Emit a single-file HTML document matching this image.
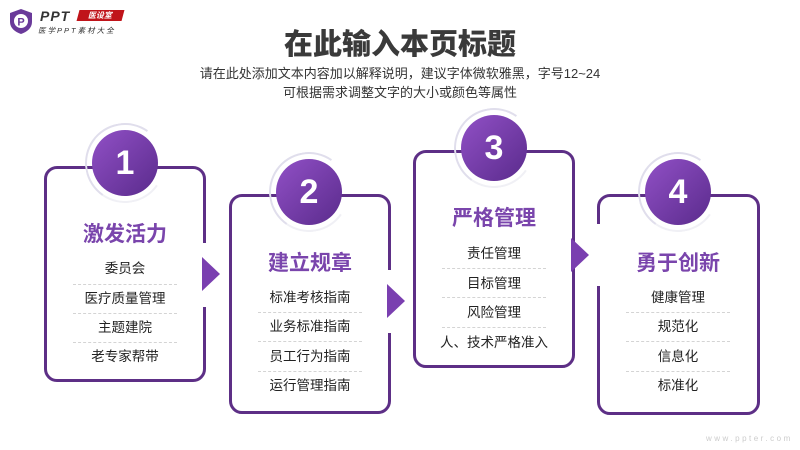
<!DOCTYPE html>
<html><head><meta charset="utf-8"><style>
*{margin:0;padding:0;box-sizing:border-box}
body{width:800px;height:450px;background:#fff;position:relative;overflow:hidden;font-family:"Liberation Sans","Noto Sans CJK SC",sans-serif}
.abs{position:absolute}
.card{position:absolute;border:3px solid #5d2f86;border-radius:13px;background:#fff}
.ring{position:absolute;width:80px;height:80px;border-radius:50%;border:2px solid #e0deec;border-right-color:transparent;border-bottom-color:#f0f0f5;transform:rotate(-10deg)}
.circ{position:absolute;width:66px;height:66px;border-radius:50%;background:linear-gradient(135deg,#9150c6,#5a2b8c);color:#fff;font-size:34px;font-weight:bold;text-align:center;line-height:66px}
.ttl{position:absolute;width:162px;text-align:center;font-size:21px;font-weight:bold;color:#7a45ac;font-family:"Noto Sans CJK SC",sans-serif}
.it{position:absolute;width:162px;text-align:center;font-size:13.5px;color:#222;line-height:18px}
.sep{position:absolute;width:104px;border-top:1px dashed #d4d4d4}
.arr{position:absolute;width:0;height:0;border-top:17px solid transparent;border-bottom:17px solid transparent;border-left:18px solid #7a3fb0}
.gap{position:absolute;background:#fff;width:10px}
</style></head><body>
<svg class="abs" style="left:8px;top:8px" width="26" height="27" viewBox="0 0 26 27"><path d="M13 1 L24 5 V14 C24 20 19 24 13 26 C7 24 2 20 2 14 V5 Z" fill="#6a3a9a"/><circle cx="13" cy="13" r="7" fill="#fff"/><text x="13" y="17.5" font-size="11" font-weight="bold" fill="#6a3a9a" text-anchor="middle" font-family="Liberation Sans">P</text></svg>
<div class="abs" style="left:40px;top:8px;font-size:14px;font-weight:bold;font-style:italic;color:#333;letter-spacing:1px">PPT</div>
<div class="abs" style="left:78px;top:10px;width:45px;height:11px;background:#c0141a;transform:skewX(-15deg);color:#fff;font-size:8px;line-height:11px;text-align:center;font-weight:bold">医设室</div>
<div class="abs" style="left:38px;top:25px;font-size:7.5px;color:#333;letter-spacing:2px;font-style:italic">医学PPT素材大全</div>
<div class="abs" style="left:0;top:24px;width:800px;text-align:center;font-size:29px;font-weight:900;color:#3a3a3a;font-family:'Noto Sans CJK SC',sans-serif;line-height:36px">在此输入本页标题</div>
<div class="abs" style="left:0;top:64px;width:800px;text-align:center;font-size:13px;color:#333;line-height:19px">请在此处添加文本内容加以解释说明，建议字体微软雅黑，字号12~24<br>可根据需求调整文字的大小或颜色等属性</div>

<div class="card" style="left:44px;top:166px;width:162px;height:216px"></div>
<div class="card" style="left:229px;top:194px;width:162px;height:220px"></div>
<div class="card" style="left:413px;top:150px;width:162px;height:218px"></div>
<div class="card" style="left:597px;top:194px;width:163px;height:221px"></div>

<div class="gap" style="left:200px;top:243px;height:64px"></div>
<div class="arr" style="left:202px;top:257px"></div>
<div class="gap" style="left:385px;top:270px;height:63px"></div>
<div class="arr" style="left:387px;top:284px"></div>
<div class="gap" style="left:595px;top:224px;height:62px"></div>
<div class="arr" style="left:571px;top:238px"></div>

<div class="ring" style="left:85px;top:123px"></div><div class="circ" style="left:92px;top:130px">1</div>
<div class="ring" style="left:269px;top:152px"></div><div class="circ" style="left:276px;top:159px">2</div>
<div class="ring" style="left:454px;top:108px"></div><div class="circ" style="left:461px;top:115px">3</div>
<div class="ring" style="left:638px;top:152px"></div><div class="circ" style="left:645px;top:159px">4</div>

<div class="ttl" style="left:44px;top:218px">激发活力</div>
<div class="it" style="left:44px;top:260px">委员会</div>
<div class="sep" style="left:73px;top:284px"></div>
<div class="it" style="left:44px;top:290px">医疗质量管理</div>
<div class="sep" style="left:73px;top:313px"></div>
<div class="it" style="left:44px;top:319px">主题建院</div>
<div class="sep" style="left:73px;top:342px"></div>
<div class="it" style="left:44px;top:348px">老专家帮带</div>

<div class="ttl" style="left:229px;top:247px">建立规章</div>
<div class="it" style="left:229px;top:289px">标准考核指南</div>
<div class="sep" style="left:258px;top:312px"></div>
<div class="it" style="left:229px;top:318px">业务标准指南</div>
<div class="sep" style="left:258px;top:341px"></div>
<div class="it" style="left:229px;top:348px">员工行为指南</div>
<div class="sep" style="left:258px;top:371px"></div>
<div class="it" style="left:229px;top:377px">运行管理指南</div>

<div class="ttl" style="left:413px;top:202px">严格管理</div>
<div class="it" style="left:413px;top:245px">责任管理</div>
<div class="sep" style="left:442px;top:268px"></div>
<div class="it" style="left:413px;top:275px">目标管理</div>
<div class="sep" style="left:442px;top:297px"></div>
<div class="it" style="left:413px;top:304px">风险管理</div>
<div class="sep" style="left:442px;top:327px"></div>
<div class="it" style="left:413px;top:334px">人、技术严格准入</div>

<div class="ttl" style="left:597px;top:247px">勇于创新</div>
<div class="it" style="left:597px;top:289px">健康管理</div>
<div class="sep" style="left:626px;top:312px"></div>
<div class="it" style="left:597px;top:318px">规范化</div>
<div class="sep" style="left:626px;top:341px"></div>
<div class="it" style="left:597px;top:348px">信息化</div>
<div class="sep" style="left:626px;top:371px"></div>
<div class="it" style="left:597px;top:377px">标准化</div>

<div class="abs" style="left:706px;top:434px;font-size:8px;color:#ccc;letter-spacing:2.5px">www.ppter.com</div>
</body></html>
